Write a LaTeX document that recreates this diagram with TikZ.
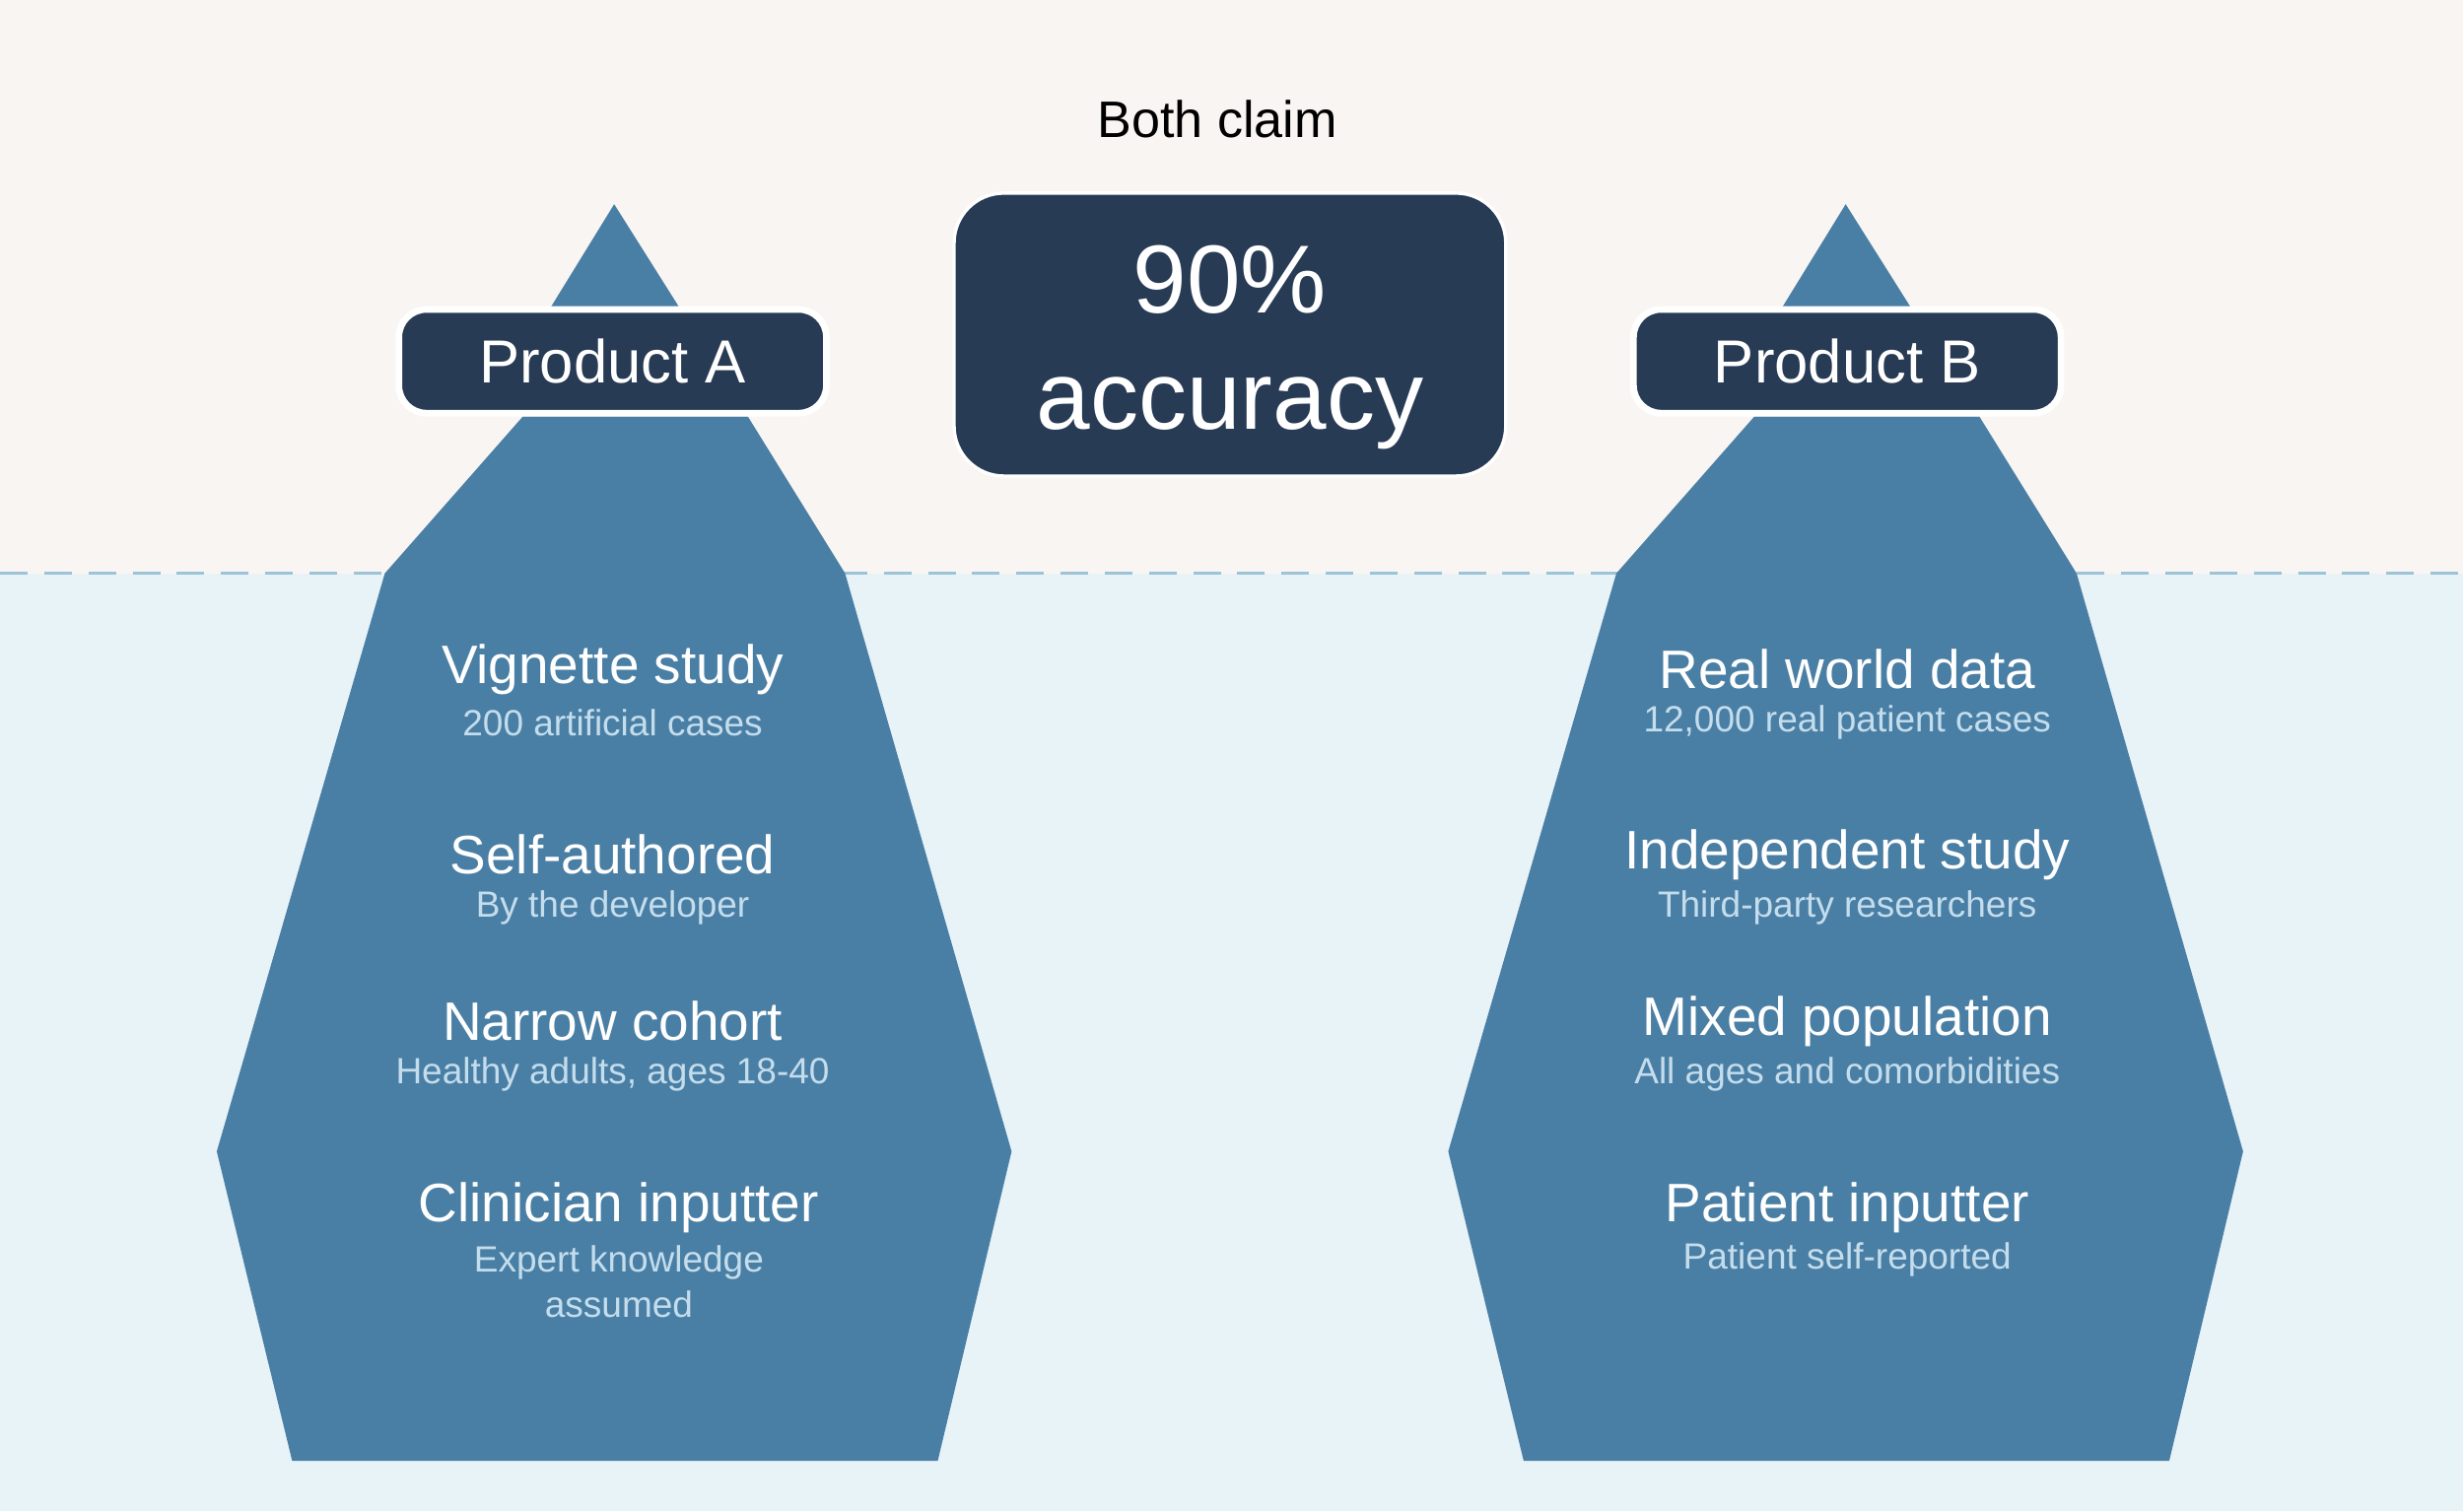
\documentclass[tikz,border=0pt]{standalone}
\usepackage{fontspec}
\setmainfont{Liberation Sans}
\definecolor{topbg}{HTML}{F9F5F2}
\definecolor{botbg}{HTML}{E8F3F8}
\definecolor{ice}{HTML}{4A7FA5}
\definecolor{navy}{HTML}{283B55}
\definecolor{dashcol}{HTML}{9DC3D8}
\definecolor{sub}{HTML}{C4DDEC}
\begin{document}
\begin{tikzpicture}[x=0.01cm,y=-0.01cm,
  lab/.style={fill=navy,draw=white,line width=1.2pt,rounded corners=5pt,text=white,font=\fontsize{11}{13}\selectfont,minimum width=2.72cm,minimum height=0.66cm,inner sep=0},
  ttl/.style={text=white,font=\fontsize{9.8}{11}\selectfont,inner sep=0},
  st/.style={text=sub,font=\fontsize{6.6}{8}\selectfont,inner sep=0,align=center}]
\useasboundingbox (0,0) rectangle (1568,962);
\fill[topbg] (0,0) rectangle (1568,365);
\fill[botbg] (0,365) rectangle (1568,962);
\draw[dashcol,line width=0.6pt,dash pattern=on 5pt off 3pt] (0,365) -- (1568,365);
\foreach \d in {0,784}{
  \begin{scope}[xshift=\d*0.01cm]
  \fill[ice] (351,195) -- (391,130) -- (432,195) -- cycle;
  \fill[ice] (333,265) -- (476,265) -- (538,365) -- (644,733) -- (597,930) -- (186,930) -- (138,733) -- (245,365) -- cycle;
  \end{scope}}
\node[lab] (pa) at (390,230) {Product A};
\node[lab] (pb) at (1176,230) {Product B};
\node[text=black,font=\fontsize{9.3}{11}\selectfont] (both) at (775,76) {Both claim};
\node[fill=navy,draw=white,line width=0.6pt,rounded corners=9pt,minimum width=3.51cm,minimum height=1.8cm,inner sep=0] (acc) at (783,213) {};
\node[text=white,font=\fontsize{17.5}{20}\selectfont,inner sep=0,anchor=base] (n90) at (783,199) {90\%};
\node[text=white,font=\fontsize{17.5}{20}\selectfont,inner sep=0,anchor=base] (nacc) at (783,273) {accuracy};
% A
\node[ttl] (a1) at (390,426) {Vignette study};
\node[st] (a1s) at (390,460) {200 artificial cases};
\node[ttl] (a2) at (390,544) {Self-authored};
\node[st] (a2s) at (390,578) {By the developer};
\node[ttl] (a3) at (390,650) {Narrow cohort};
\node[st] (a3s) at (390,684) {Healthy adults, ages 18-40};
\node[ttl] (a4) at (394,769) {Clinician inputter};
\node[st,anchor=north] (a4s) at (394,792) {Expert knowledge\\[0.3pt]assumed};
% B
\node[ttl] (b1) at (1176,426) {Real world data};
\node[st] (b1s) at (1176,460) {12,000 real patient cases};
\node[ttl] (b2) at (1176,544) {Independent study};
\node[st] (b2s) at (1176,578) {Third-party researchers};
\node[ttl] (b3) at (1176,650) {Mixed population};
\node[st] (b3s) at (1176,684) {All ages and comorbidities};
\node[ttl] (b4) at (1176,769) {Patient inputter};
\node[st] (b4s) at (1176,802) {Patient self-reported};
\end{tikzpicture}
\end{document}
